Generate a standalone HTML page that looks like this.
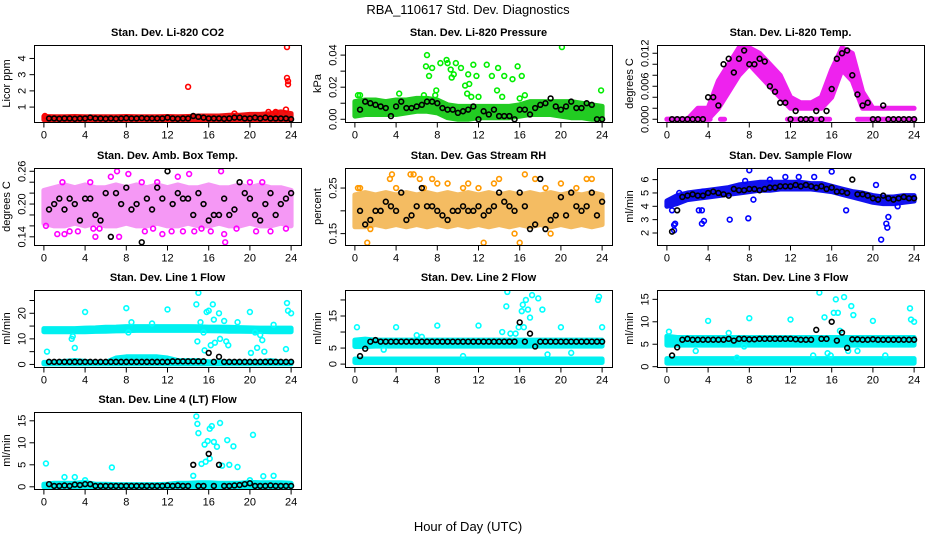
<!DOCTYPE html>
<html><head><meta charset="utf-8"><style>
html,body{margin:0;padding:0;background:#fff;}
svg{display:block;font-family:"Liberation Sans",sans-serif;}
</style></head><body>
<svg id="chart" width="936" height="540" viewBox="0 0 936 540" xmlns="http://www.w3.org/2000/svg">
<rect width="936" height="540" fill="#fff"/>
<text x="468" y="14" text-anchor="middle" font-size="13">RBA_110617  Std. Dev. Diagnostics</text>
<text x="468" y="531" text-anchor="middle" font-size="13">Hour of Day (UTC)</text>
</svg>
<script>
// ---------- data ----------
const hours = [0,1,2,3,4,5,6,7,8,9,10,11,12,13,14,15,16,17,18,19,20,21,22,23,24];
const blackX = [0.5,1,1.5,2,2.5,3,3.5,4,4.5,5,5.5,6,6.5,7,7.5,8,8.5,9,9.5,10,10.5,11,11.5,12,12.5,13,13.5,14,14.5,15,15.5,16,16.5,17,17.5,18,18.5,19,19.5,20,20.5,21,21.5,22,22.5,23,23.5,24];

// P1 CO2
const co2Lo = [0.22,0.22,0.22,0.22,0.22,0.22,0.22,0.22,0.22,0.22,0.22,0.22,0.22,0.22,0.22,0.22,0.22,0.22,0.22,0.22,0.22,0.22,0.22,0.22,0.22];
const co2Hi = [0.42,0.4,0.4,0.42,0.4,0.4,0.4,0.4,0.42,0.4,0.4,0.4,0.42,0.4,0.42,0.45,0.45,0.45,0.5,0.5,0.55,0.55,0.6,0.7,0.6];
const co2OutX = [14,23.6,23.6,23.7,23.7,21.8,23.5,18.5,22.5,0.1];
const co2OutY = [2.25,4.7,2.8,2.6,2.4,0.7,0.85,0.6,0.7,0.45];
const co2Black = [0.3,0.3,0.28,0.3,0.3,0.28,0.3,0.3,0.35,0.3,0.3,0.28,0.3,0.28,0.3,0.32,0.3,0.3,0.32,0.3,0.3,0.3,0.3,0.35,0.3,0.28,0.3,0.3,0.45,0.4,0.35,0.3,0.3,0.3,0.28,0.3,0.35,0.35,0.3,0.3,0.35,0.3,0.35,0.3,0.3,0.3,0.3,0.25];

// P2 Pressure
const presLo = [0.002,0.003,0.003,0.003,0.003,0.004,0.005,0.005,0.004,0.001,0,0,0.001,0.001,0.001,0.001,0.002,0.003,0.003,0.003,0.002,0.001,0.001,0,0];
const presHi = [0.011,0.012,0.012,0.011,0.012,0.012,0.013,0.013,0.012,0.009,0.008,0.008,0.008,0.008,0.008,0.008,0.009,0.011,0.011,0.011,0.011,0.011,0.01,0.009,0.008];
const presOutX = [0.3,0.5,4.3,7,6.9,7.2,7.5,7.9,8.3,8.9,9,9.3,9.4,9.6,9.8,10.3,10.7,10.9,11,11.1,11.3,11.5,11.8,12.8,13.3,13.8,13.9,14.3,14.5,15.3,15.8,16,16.2,16.5,20.1,23.9,7.8,12,6.7];
const presOutY = [0.015,0.015,0.016,0.040,0.033,0.027,0.032,0.018,0.035,0.037,0.035,0.031,0.026,0.028,0.035,0.032,0.021,0.016,0.028,0.022,0.014,0.034,0.027,0.034,0.027,0.018,0.032,0.014,0.027,0.025,0.033,0.013,0.027,0.015,0.045,0.018,0.015,0.014,0.015];
const presBlack = [0.006,0.011,0.01,0.009,0.008,0.007,0.002,0.008,0.011,0.007,0.007,0.008,0.009,0.011,0.011,0.01,0.007,0.006,0.006,0.004,0.005,0.006,0.008,0,0.005,0.003,0.006,0.002,0.002,0.002,0,0.006,0.006,0.003,0.007,0.009,0.01,0.013,0.008,0.006,0.008,0.011,0.007,0.007,0.01,0.009,0,0];

// P3 Temp
const tempLo = [0,0,0,0,0,0.002,0.005,0.008,0.010,0.008,0.006,0.004,0.002,0.002,0.002,0.002,0.004,0.009,0.007,0.002,0.002,0.002,0.002,0.002,0.002];
const tempHi = [0,0,0,0.002,0.002,0.007,0.010,0.013,0.013,0.012,0.010,0.008,0.004,0.003,0.003,0.004,0.009,0.013,0.012,0.005,0.002,0.002,0.002,0.002,0.002];
const tempZeroStart = [0,5.2,11.7,18.5];
const tempZeroEnd = [4.2,5.6,15.8,24];
const tempBlack = [0,0,0,0,0,0,0,0.004,0.004,0.0025,0.010,0.011,0.0085,0.011,0.0125,0.010,0.010,0.011,0.0105,0.006,0.005,0.003,0.003,0,0.0015,0,0,0,0.0015,0,0.0015,0.0055,0.011,0.012,0.0125,0.008,0.0045,0.0025,0.003,0,0,0.0025,0,0,0,0,0,0];

// P4 Amb box temp
const ambLo = [0.165,0.16,0.16,0.165,0.16,0.165,0.16,0.16,0.165,0.16,0.16,0.165,0.16,0.16,0.165,0.16,0.16,0.165,0.16,0.16,0.165,0.16,0.16,0.165,0.16];
const ambHi = [0.225,0.23,0.235,0.23,0.235,0.23,0.23,0.235,0.23,0.235,0.23,0.235,0.23,0.235,0.23,0.23,0.235,0.23,0.23,0.235,0.23,0.235,0.23,0.23,0.225];
const ambOutX = [1.3,1.8,2,2.5,3.3,4.5,5,5.4,6.5,7.1,7.3,8.2,9.5,9.8,10.6,11.5,12.4,13,13.5,14.1,14.6,15.3,16.2,17.2,17.5,17.6,18.7,20,20.6,21.2,22,23.5,0.2,4.8,11];
const ambOutY = [0.145,0.24,0.145,0.15,0.15,0.24,0.14,0.155,0.25,0.26,0.14,0.255,0.24,0.15,0.155,0.145,0.15,0.25,0.15,0.255,0.15,0.155,0.15,0.26,0.145,0.13,0.155,0.24,0.15,0.24,0.15,0.155,0.16,0.155,0.24];
const ambBlack = [0.19,0.2,0.21,0.19,0.21,0.2,0.17,0.21,0.21,0.18,0.17,0.22,0.14,0.22,0.2,0.23,0.19,0.2,0.13,0.21,0.19,0.23,0.21,0.26,0.2,0.22,0.21,0.21,0.18,0.22,0.2,0.17,0.18,0.18,0.21,0.18,0.19,0.24,0.22,0.21,0.18,0.17,0.2,0.22,0.18,0.2,0.21,0.22];

// P5 RH
const rhLo = [0.165,0.165,0.17,0.165,0.17,0.165,0.17,0.165,0.17,0.165,0.17,0.165,0.17,0.165,0.17,0.165,0.17,0.165,0.17,0.165,0.17,0.165,0.17,0.165,0.17];
const rhHi = [0.235,0.24,0.235,0.24,0.235,0.24,0.235,0.24,0.235,0.24,0.235,0.24,0.235,0.24,0.235,0.24,0.235,0.24,0.235,0.24,0.235,0.24,0.235,0.24,0.235];
const rhOutX = [0.3,0.5,1.2,3.4,3.6,4,5.4,5.7,6.3,6.7,8,9,10.5,12,12.5,13.5,14,15.5,16,16.5,17.5,19,20,21.5,22.5,23,1.5,7.5,11,18.5];
const rhOutY = [0.25,0.25,0.13,0.27,0.28,0.25,0.28,0.28,0.27,0.25,0.26,0.26,0.25,0.25,0.13,0.26,0.27,0.15,0.13,0.28,0.27,0.15,0.26,0.25,0.27,0.27,0.16,0.27,0.26,0.25];
const rhBlack = [0.2,0.17,0.18,0.2,0.2,0.22,0.21,0.2,0.24,0.18,0.19,0.21,0.25,0.21,0.21,0.2,0.19,0.18,0.2,0.2,0.21,0.2,0.2,0.21,0.19,0.2,0.21,0.24,0.22,0.21,0.2,0.24,0.21,0.16,0.17,0.27,0.16,0.18,0.19,0.23,0.19,0.24,0.21,0.2,0.21,0.24,0.19,0.22];

// P6 Sample flow
const flowLo = [4.0,4.2,4.5,4.6,4.7,4.8,4.9,5.0,5.1,5.2,5.2,5.3,5.3,5.3,5.3,5.2,5.1,4.9,4.7,4.5,4.3,4.2,4.2,4.3,4.4];
const flowHi = [4.4,4.8,5.0,5.1,5.2,5.3,5.4,5.6,5.7,5.8,5.8,5.8,5.8,5.8,5.7,5.7,5.5,5.3,5.1,5.0,4.8,4.7,4.7,4.8,4.8];
const flowOutX = [0.5,0.7,0.8,0.7,3.1,3.4,3.4,3.6,6.1,7.9,8,8.4,7.6,10,11.5,12.8,14.3,16,17.4,20.3,20.8,21.3,21.5,21.4,23.9,22.4,1.2,3.5];
const flowOutY = [3.7,2.6,2.7,2.2,3.7,3.7,2.7,2.9,3.0,3.1,6.7,4.5,5.9,6.0,6.2,6.2,6.2,6.6,3.7,5.6,1.5,2.7,3.2,2.4,6.2,4.0,5.0,5.1];
const flowBlack = [2.1,3.7,4.7,4.8,4.9,4.8,4.8,5.0,5.1,5.0,4.9,4.8,5.3,5.2,5.2,5.3,5.3,5.2,5.3,5.4,5.4,5.5,5.5,5.5,5.6,5.5,5.6,5.5,5.4,5.5,5.3,5.4,5.1,5.1,5.0,6.0,4.9,4.9,4.8,4.6,4.5,4.8,4.6,4.5,4.6,4.7,4.6,4.6];

// P7 Line 1
const l1Lo = [12.8,12.8,12.8,12.8,12.8,12.9,13,13.1,13.2,13.3,13.3,13.3,13.3,13.3,13.3,13.3,13.2,13.1,13,13,12.9,12.9,12.8,12.8,12.8];
const l1Hi = [14,14,14,14,14.2,14.3,14.5,14.6,14.8,14.8,14.8,14.8,14.8,14.8,14.8,14.7,14.6,14.6,14.5,14.4,14.3,14.2,14.2,14.2,14.2];
const l1Lo2 = [0.2,0.2,0.2,0.2,0.2,0.2,0.2,0.2,0.2,0.2,0.2,0.2,0.2,0.2,0.2,0.2,0.2,0.2,0.2,0.2,0.2,0.2,0.2,0.2,0.2];
const l1Hi2 = [0.8,0.8,1.2,1.5,1.2,0.8,0.8,2.5,3,3,3,3,2.5,1.5,1.5,1.5,1,1,1,1,1,1,1.5,1,0.8];
const l1OutX = [0.3,2.7,2.8,3,4,8,8.2,8.5,10.5,12,14.8,14.9,15,15.2,15.5,15.8,16,16.2,16.4,16.5,17,17.1,17.5,17.7,17.9,18.8,20,20.1,20.5,20.7,21,21.2,21.4,22.3,23.5,23.6,23.7,24,15.6,16.6];
const l1OutY = [5,10,11,6.5,20.5,22,12.5,16.5,16,21.5,23.5,9,28,16.5,12.5,20.5,21,7.5,23.5,17.5,20,10,17,9,7.5,16.5,20.5,4.5,12.5,6.5,11.5,9.5,5,15.5,6,24,21,20,5.5,8.5];
const l1Black = [1,1,1,1,1,1,1,1,1,1,1,1,1,1,1,1,1,1,1,1,1,1,1,1,1.2,1.2,1.2,1.2,1.2,1.2,1.2,4.5,1,3,1,1,1,1,1,1,1,1,1,1,1,1,1,1];

// P8 Line 2
const l2Lo = [5.5,5.5,5.6,5.6,5.6,5.6,5.6,5.6,5.6,5.6,5.6,5.6,5.6,5.6,5.6,5.6,5.6,5.6,5.6,5.6,5.6,5.6,5.6,5.6,5.6];
const l2Hi = [7.5,7.8,7.5,7.5,7.5,7.5,7.5,7.5,7.5,7.5,7.5,7.5,7.5,7.5,7.5,7.5,7.5,7.5,7.5,7.5,7.5,7.5,7.5,7.5,7.5];
const l2Lo2 = [0.5,0.5,0.5,0.5,0.5,0.5,0.5,0.5,0.5,0.5,0.5,0.5,0.5,0.5,0.5,0.5,0.5,0.5,0.5,0.5,0.5,0.5,0.5,0.5,0.5];
const l2Hi2 = [1.6,1.6,1.6,1.6,1.6,1.6,1.6,1.6,1.6,1.6,1.6,1.6,1.6,1.6,1.6,1.6,1.6,1.6,1.6,1.6,1.6,1.6,1.6,1.6,1.6];
const l2OutX = [0.2,4,6,6.5,8,12,14.3,14.8,14.7,15.1,15.6,15.9,16.2,16.3,16.4,16.6,16.8,17,17.2,17.8,18.2,18.7,20,21,23.6,23.7,24,10.5,2.8];
const l2OutY = [11.5,11.5,9,8.5,12,12,10,22.5,18,9.5,9.5,11.5,16.5,18.5,11.5,20,17,14.5,21.5,20.5,17,3,11.5,3.5,20,21,11.5,2.5,4.5];
const l2Black = [2.5,4.8,7,7.5,7,7,7,7,7,7,7,7,7,7,7,7,7,7,7,7,7,7,7,7,7,7,7,7,7,7,7,13,7,9.5,5.5,7,7,7,7,7,7,7,7,7,7,7,7,7];

// P9 Line 3
const l3Lo = [4.8,4.8,4.8,4.8,4.8,4.8,4.8,4.8,4.8,4.8,4.8,4.8,4.8,4.8,4.8,4.8,4.8,4.8,4.8,4.8,4.8,4.8,4.8,4.8,4.8];
const l3Hi = [6.8,6.5,6.5,6.5,6.5,6.5,6.5,6.5,6.5,6.5,6.5,6.5,6.5,6.5,6.5,6.5,6.5,6.5,6.5,6.5,6.5,6.5,6.5,6.5,6.5];
const l3Lo2 = [0.8,0.8,0.8,0.8,0.8,0.8,0.8,0.8,0.8,0.8,0.8,0.8,0.8,0.8,0.8,0.8,0.8,0.8,0.8,0.8,0.8,0.8,0.8,0.8,0.8];
const l3Hi2 = [1.8,1.8,1.8,1.8,1.8,1.8,1.8,1.8,1.8,1.8,1.8,1.8,1.8,1.8,1.8,1.8,1.8,1.8,1.8,1.8,1.8,1.8,1.8,1.8,1.8];
const l3OutX = [0.2,2.8,4,6,7.5,8,12,14.8,15.3,15.6,15.9,16.2,16.4,16.6,16.8,17.2,17.6,17.9,18.1,18.5,20,21.2,23.6,23.7,24,14.2,6.8];
const l3OutY = [7.8,3.5,10.2,7.5,4.5,10.8,10.5,16.5,11,3,2.5,12,15,12,8,15.5,3.5,13.5,11.5,3.5,10.2,2.5,13,10.5,10,2.5,2];
const l3Black = [2.5,4.3,6,6.2,6,6,6,6,6,6,6,6.2,5.8,6.2,6.2,6.1,6.1,6.2,6.2,6.2,6.2,6.2,6.2,6.2,6.1,6,6,6,8.2,6.2,6.2,10,5.8,7.6,4.2,6.1,6.1,6,6,6.1,6,6,6,6,6,6,6,6];

// P10 Line 4
const l4Lo = [0,0,0,0,0,0,0,0,0,0,0,0,0,0,0,0,0,0,0,0,0,0,0,0,0];
const l4Hi = [0.6,0.8,0.8,0.8,1,0.6,0.6,0.5,0.5,0.5,0.5,0.5,0.6,0.8,0.8,0.9,0.9,0.8,0.8,0.8,1,0.9,0.9,0.9,0.8];
const l4OutX = [0.2,2,3,4,6.6,14.8,14.9,15,15.3,15.6,15.7,15.9,16.1,16.3,16.5,16.8,17.1,17.3,17.8,18,18.4,18.8,20,20.3,21.3,22.3,14.5,16.1];
const l4OutY = [5.3,2.2,2.2,1.5,4.4,16,14.3,12.2,5.2,9.6,5.7,10.4,13.2,13.8,10.2,9.1,14.5,4.8,10.6,5,9.2,4.5,1.5,11.8,2.4,2.5,2.5,6.4];
const l4Black = [0.6,0.2,0.2,0.3,0.2,0.5,0.4,0.6,0.6,0.2,0.2,0.2,0.2,0.2,0.2,0.2,0.2,0.2,0.2,0.2,0.2,0.2,0.2,0.3,0.2,0.3,0.2,0.2,5,0.2,0.2,7.5,0.2,5,0.2,0.2,0.3,0.4,0.6,0.8,0.2,0.2,0.2,0.3,0.2,0.2,0.2,0.2];

// ---------- drawing ----------
const NS = "http://www.w3.org/2000/svg";
const svg = document.getElementById('chart');
function mk(tag, attrs, parent){ const e=document.createElementNS(NS,tag); for(const k in attrs) e.setAttribute(k,attrs[k]); (parent||svg).appendChild(e); return e; }

const panels = [
 {id:'co2', title:'Stan. Dev. Li-820 CO2', ylab:'Licor ppm', col:0,row:0, ymin:0.08,ymax:4.83, ticks:[1,2,3,4], labels:['1','2','3','4'], color:'#ff0000', band:'#ee1111', op:1, bands:[[co2Lo,co2Hi]], ox:co2OutX, oy:co2OutY, blk:co2Black},
 {id:'pressure', title:'Stan. Dev. Li-820 Pressure', ylab:'kPa', col:1,row:0, ymin:-0.0017,ymax:0.0463, ticks:[0,0.01,0.02,0.03,0.04], labels:['0.00','','0.02','','0.04'], color:'#00ee00', band:'#22cc22', op:1, bands:[[presLo,presHi]], ox:presOutX, oy:presOutY, blk:presBlack},
 {id:'temp', title:'Stan. Dev. Li-820 Temp.', ylab:'degrees C', col:2,row:0, ymin:-0.0005,ymax:0.0135, ticks:[0,0.002,0.004,0.006,0.008,0.010,0.012], labels:['0.000','','','0.006','','','0.012'], color:'#ff00ff', band:'#ee22ee', op:1, bands:[[tempLo,tempHi]], ox:[], oy:[], blk:tempBlack, zero:true},
 {id:'amb-box-temp', title:'Stan. Dev. Amb. Box Temp.', ylab:'degrees C', col:0,row:1, ymin:0.125,ymax:0.266, ticks:[0.14,0.16,0.18,0.20,0.22,0.24,0.26], labels:['0.14','','','0.20','','','0.26'], color:'#ff00ff', band:'#f055f0', op:0.6, bands:[[ambLo,ambHi]], ox:ambOutX, oy:ambOutY, blk:ambBlack},
 {id:'gas-stream-rh', title:'Stan. Dev. Gas Stream RH', ylab:'percent', col:1,row:1, ymin:0.125,ymax:0.294, ticks:[0.15,0.20,0.25], labels:['0.15','','0.25'], color:'#ff9900', band:'#f0a020', op:0.7, bands:[[rhLo,rhHi]], ox:rhOutX, oy:rhOutY, blk:rhBlack},
 {id:'sample-flow', title:'Stan. Dev. Sample Flow', ylab:'ml/min', col:2,row:1, ymin:1.1,ymax:6.87, ticks:[2,3,4,5,6], labels:['2','3','4','5','6'], color:'#0000ff', band:'#1111ee', op:1, bands:[[flowLo,flowHi]], ox:flowOutX, oy:flowOutY, blk:flowBlack},
 {id:'line1-flow', title:'Stan. Dev. Line 1 Flow', ylab:'ml/min', col:0,row:2, ymin:-1,ymax:29.1, ticks:[0,5,10,15,20,25], labels:['0','','10','','20',''], color:'#00ffff', band:'#00f0f0', op:1, bands:[[l1Lo,l1Hi],[l1Lo2,l1Hi2]], ox:l1OutX, oy:l1OutY, blk:l1Black},
 {id:'line2-flow', title:'Stan. Dev. Line 2 Flow', ylab:'ml/min', col:1,row:2, ymin:-0.9,ymax:23.1, ticks:[0,5,10,15,20], labels:['0','5','','15',''], color:'#00ffff', band:'#00f0f0', op:1, bands:[[l2Lo,l2Hi],[l2Lo2,l2Hi2]], ox:l2OutX, oy:l2OutY, blk:l2Black},
 {id:'line3-flow', title:'Stan. Dev. Line 3 Flow', ylab:'ml/min', col:2,row:2, ymin:-0.07,ymax:17.08, ticks:[0,5,10,15], labels:['0','5','10','15'], color:'#00ffff', band:'#00f0f0', op:1, bands:[[l3Lo,l3Hi],[l3Lo2,l3Hi2]], ox:l3OutX, oy:l3OutY, blk:l3Black},
 {id:'line4-flow', title:'Stan. Dev. Line 4 (LT) Flow', ylab:'ml/min', col:0,row:3, ymin:-0.5,ymax:17, ticks:[0,5,10,15], labels:['0','5','10','15'], color:'#00ffff', band:'#00f0f0', op:1, bands:[[l4Lo,l4Hi]], ox:l4OutX, oy:l4OutY, blk:l4Black}
];
const colX = [34,345,657], rowY = [45,168,290,412], W = 267, H = 77;
const xTicks = [0,4,8,12,16,20,24];

panels.forEach(p=>{
  const x0=colX[p.col], y0=rowY[p.row];
  const g = mk('g',{});
  
  
  const sx = v => x0 + (v + 0.96) / 25.92 * W;
  const sy = v => y0 + H - (v - p.ymin) / (p.ymax - p.ymin) * H;
  const clipId = 'clip-'+p.id;
  const cp = mk('clipPath',{id:clipId},g); mk('rect',{x:x0,y:y0,width:W,height:H},cp);
  const data = mk('g',{'clip-path':'url(#'+clipId+')'},g);
  p.bands.forEach((b,bi)=>{
    let d='';
    hours.forEach((h,i)=>{ d += (i?'L':'M')+sx(h).toFixed(1)+','+sy(b[1][i]).toFixed(1); });
    for(let i=hours.length-1;i>=0;i--) d += 'L'+sx(hours[i]).toFixed(1)+','+sy(b[0][i]).toFixed(1);
    const path = mk('path',{d:d+'Z',fill:p.band,stroke:p.band,'stroke-width':5,'stroke-linejoin':'round',opacity:p.op},data);
    
    
  });
  if(p.zero){
    tempZeroStart.forEach((s,i)=>{
      const ln = mk('line',{x1:sx(s),x2:sx(tempZeroEnd[i]),y1:sy(0),y2:sy(0),stroke:p.band,'stroke-width':5,'stroke-linecap':'round'},data);
      
      
    });
  }
  p.ox.forEach((xv,i)=>{
    const c = mk('circle',{cx:sx(xv),cy:sy(p.oy[i]),r:2.4,fill:'none',stroke:p.color,'stroke-width':1.6},data);
    
    
  });
  p.blk.forEach((yv,i)=>{
    const c = mk('circle',{cx:sx(blackX[i]),cy:sy(yv),r:2.4,fill:'none',stroke:'#000','stroke-width':1.6},data);
    
    
  });
  const box = mk('rect',{x:x0+0.5,y:y0+0.5,width:W,height:H,fill:'none',stroke:'#000','stroke-width':1},g);
  
  
  const t = mk('text',{x:x0+W/2,y:y0-9,'text-anchor':'middle','font-size':11,'font-weight':'bold'},g);
  t.textContent = p.title;
  
  
  const by = y0+H+0.5;
  mk('line',{x1:sx(0),x2:sx(24),y1:by,y2:by,stroke:'#000'},g);
  xTicks.forEach(v=>{
    mk('line',{x1:sx(v),x2:sx(v),y1:by,y2:by+5,stroke:'#000'},g);
    const tl = mk('text',{x:sx(v),y:by+16,'text-anchor':'middle','font-size':11},g);
    tl.textContent = v;
    
    
  });
  const bx = x0+0.5;
  p.ticks.forEach((v,i)=>{
    mk('line',{x1:bx,x2:bx-5,y1:sy(v),y2:sy(v),stroke:'#000'},g);
    if(p.labels[i]){
      const tl = mk('text',{x:0,y:0,'text-anchor':'middle','font-size':11,transform:'translate('+(bx-9)+','+sy(v)+') rotate(-90)'},g);
      tl.textContent = p.labels[i];
      
      
    }
  });
  const yl = mk('text',{x:0,y:0,'text-anchor':'middle','font-size':11,transform:'translate('+(x0-24)+','+(y0+H/2)+') rotate(-90)'},g);
  yl.textContent = p.ylab;
  
  
});
</script>
</body></html>
